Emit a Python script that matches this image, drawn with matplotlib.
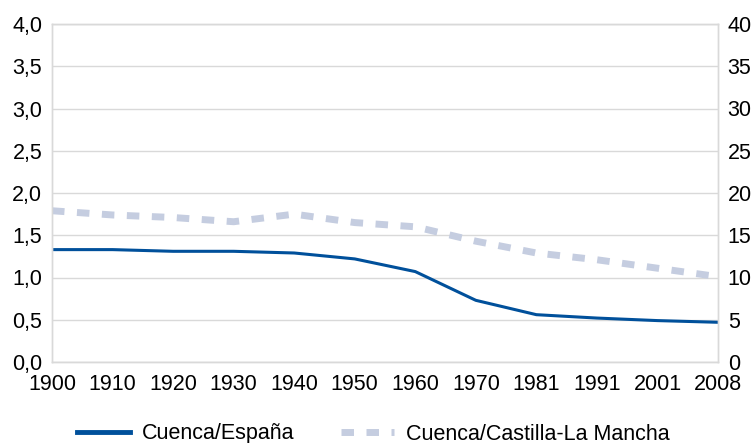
import numpy as np
import matplotlib
matplotlib.use('Agg')
import matplotlib.pyplot as plt
from matplotlib.ticker import FuncFormatter
from matplotlib.lines import Line2D

years = ['1900', '1910', '1920', '1930', '1940', '1950', '1960',
         '1970', '1981', '1991', '2001', '2008']
cuenca_esp = [1.33, 1.33, 1.31, 1.31, 1.29, 1.22, 1.07,
              0.73, 0.56, 0.52, 0.49, 0.47]
cuenca_clm = [17.9, 17.4, 17.1, 16.6, 17.5, 16.5, 16.0,
              14.3, 12.9, 12.1, 11.1, 10.1]

plt.rcParams.update({'font.family': 'Liberation Sans', 'font.size': 15.5})

blue = '#00509b'
light = '#c5cde0'
grid_c = '#d9d9d9'

fig = plt.figure(figsize=(7.54, 4.43), dpi=100)
ax = fig.add_axes([52 / 754, 1 - 362 / 443, 666 / 754, 338 / 443])
ax2 = ax.twinx()

x = np.arange(len(years))
ax.plot(x, cuenca_esp, color=blue, linewidth=2.2)
ax2.plot(x, cuenca_clm, color=light, linewidth=5, dashes=(1.8, 1.8))

ax.set_xlim(0, len(years) - 1)
ax.set_ylim(0, 4)
ax2.set_ylim(0, 40)
ax.set_yticks(np.arange(0, 4.01, 0.5))
ax2.set_yticks(np.arange(0, 41, 5))
ax.yaxis.set_major_formatter(FuncFormatter(lambda v, p: f'{v:.1f}'.replace('.', ',')))
ax.set_xticks(x)
ax.set_xticklabels(years)
ax.grid(True, axis='y', color=grid_c, linewidth=1)
ax.set_axisbelow(True)

for a in (ax, ax2):
    a.tick_params(length=0, pad=7, labelsize=15.5)
    for s in a.spines.values():
        s.set_color(grid_c)
        s.set_linewidth(1)
ax.tick_params(axis='x', pad=9)

h1 = Line2D([], [], color=blue, linewidth=3.5)
h2 = Line2D([], [], color=light, linewidth=5, dashes=(1.8, 1.8))
fig.legend(handles=[h1, h2], labels=['Cuenca/España', 'Cuenca/Castilla-La Mancha'],
           loc='center left', bbox_to_anchor=(77 / 754, 1 - 434 / 443),
           ncol=2, frameon=False, fontsize=15.5, handlelength=2.45,
           handletextpad=0.55, columnspacing=2.2, borderpad=0, borderaxespad=0)

plt.savefig('out.png', dpi=100)
